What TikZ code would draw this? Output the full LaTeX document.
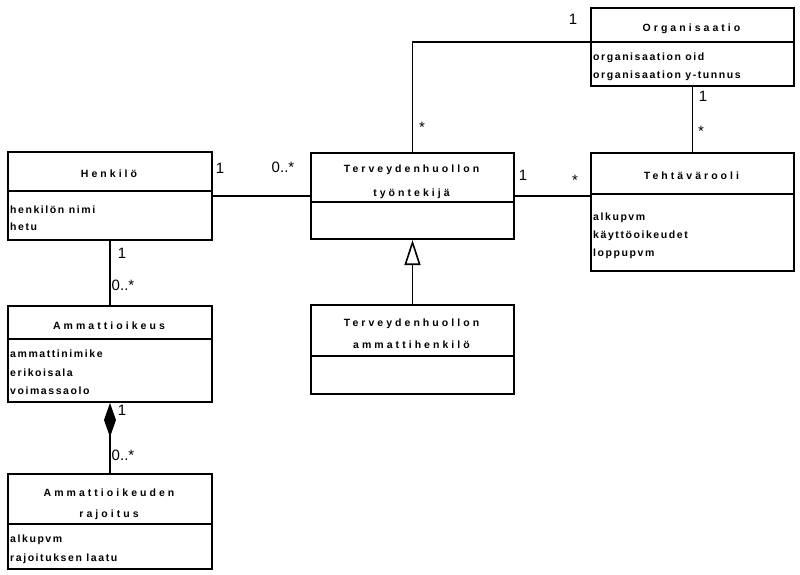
\documentclass[tikz,border=0pt]{standalone}
\usepackage{fontspec}
\setmainfont{Liberation Sans}
\newfontfamily\ttlfont[LetterSpace=29]{Liberation Sans}
\newfontfamily\attfont[LetterSpace=15]{Liberation Sans}
\usetikzlibrary{arrows.meta,calc}
\begin{document}
\begin{tikzpicture}[x=1pt,y=-1pt,
  cls/.style={draw,line width=2pt,rectangle,anchor=north west,inner sep=0},
  div/.style={line width=2pt},
  conn/.style={line width=1.6pt},
  ttl/.style={inner sep=0,anchor=base,font=\ttlfont\bfseries\fontsize{10.5}{12}\selectfont},
  att/.style={inner sep=0,anchor=base west,font=\attfont\bfseries\fontsize{10.5}{12}\selectfont},
  mult/.style={inner sep=0,anchor=base,font=\fontsize{15}{17}\selectfont}]
\useasboundingbox[fill=white] (0,0) rectangle (800,574);

% class boxes
\node[cls,minimum width=203pt,minimum height=78pt] (org) at (590,7) {};
\node[cls,minimum width=204pt,minimum height=88pt] (hen) at (7,151) {};
\node[cls,minimum width=203pt,minimum height=86pt] (tt) at (310,152) {};
\node[cls,minimum width=203pt,minimum height=118pt] (teh) at (590,152) {};
\node[cls,minimum width=204pt,minimum height=96pt] (amm) at (7,305) {};
\node[cls,minimum width=203pt,minimum height=89pt] (ah) at (310,304) {};
\node[cls,minimum width=204pt,minimum height=95pt] (raj) at (7,473) {};

% dividers
\draw[div] (org.west |- 0,42) -- (org.east |- 0,42);
\draw[div] (hen.west |- 0,191) -- (hen.east |- 0,191);
\draw[div] (tt.west |- 0,202) -- (tt.east |- 0,202);
\draw[div] (teh.west |- 0,194) -- (teh.east |- 0,194);
\draw[div] (amm.west |- 0,339) -- (amm.east |- 0,339);
\draw[div] (ah.west |- 0,356) -- (ah.east |- 0,356);
\draw[div] (raj.west |- 0,524) -- (raj.east |- 0,524);

% texts
\node[ttl] (orgT) at (691.5,31) {Organisaatio};
\node[att] (orgA1) at (593,60.5) {organisaation oid};
\node[att] (orgA2) at (593,78.5) {organisaation y-tunnus};

\node[ttl] (henT) at (109,177) {Henkilö};
\node[att] (henA1) at (10,213.5) {henkilön nimi};
\node[att] (henA2) at (10,230.5) {hetu};

\node[ttl] (ttT1) at (411.5,172) {Terveydenhuollon};
\node[ttl] (ttT2) at (411.5,196) {työntekijä};

\node[ttl] (tehT) at (691.5,179) {Tehtävärooli};
\node[att] (tehA1) at (593,220.5) {alkupvm};
\node[att] (tehA2) at (593,238.5) {käyttöoikeudet};
\node[att] (tehA3) at (593,256.5) {loppupvm};

\node[ttl] (ammT) at (109,329) {Ammattioikeus};
\node[att] (ammA1) at (10,357.5) {ammattinimike};
\node[att] (ammA2) at (10,376.5) {erikoisala};
\node[att] (ammA3) at (10,394.5) {voimassaolo};

\node[ttl] (ahT1) at (411.5,326) {Terveydenhuollon};
\node[ttl] (ahT2) at (411.5,348) {ammattihenkilö};

\node[ttl] (rajT1) at (109,496) {Ammattioikeuden};
\node[ttl] (rajT2) at (109,517) {rajoitus};
\node[att] (rajA1) at (10,542.5) {alkupvm};
\node[att] (rajA2) at (10,561.5) {rajoituksen laatu};

% connectors
\coordinate (orgJ) at (590,42);
\draw[conn] (tt.north) |- (orgJ);
\draw[conn] (org.south) -- (teh.north);
\draw[conn] (hen.east) -- (hen.east -| tt.west);
\draw[conn] (tt.east) -- (tt.east -| teh.west);
\draw[conn] (hen.south) -- (amm.north);
\draw[conn,-{Triangle[open,length=25pt,width=16pt,fill=white]}] (ah.north) -- (tt.south);
\draw[conn,{Diamond[length=34pt,width=12pt]}-] (amm.south) -- (raj.north);

% multiplicities
\node[mult] (m1) at (573,24.4) {1};
\node[mult] (m2) at (422,132.7) {*};
\node[mult] (m3) at (703,101.4) {1};
\node[mult] (m4) at (701,136.7) {*};
\node[mult] (m5) at (220,173.4) {1};
\node[mult] (m6) at (283,172.4) {0..*};
\node[mult] (m7) at (122,258.4) {1};
\node[mult] (m8) at (123,290.4) {0..*};
\node[mult] (m9) at (523,180.4) {1};
\node[mult] (m10) at (575,185.7) {*};
\node[mult] (m11) at (122,415.4) {1};
\node[mult] (m12) at (123,460.4) {0..*};
\end{tikzpicture}
\end{document}
